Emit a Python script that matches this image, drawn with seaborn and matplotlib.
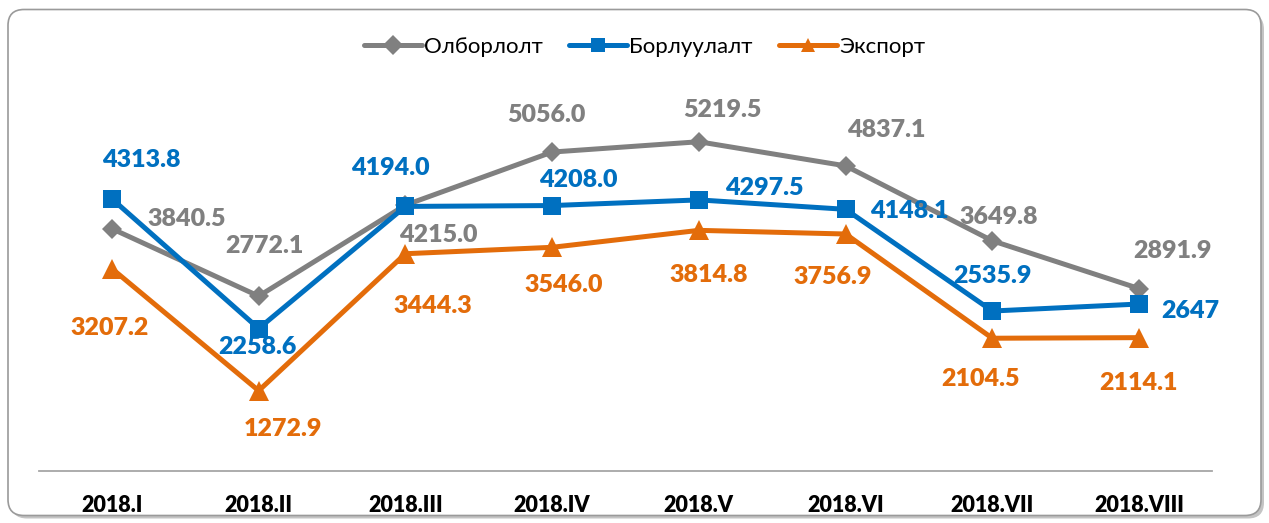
import numpy as np
import pandas as pd
import matplotlib
matplotlib.use("Agg")
import matplotlib.pyplot as plt
from matplotlib.patches import FancyBboxPatch
import seaborn as sns

periods = ["2018.I", "2018.II", "2018.III", "2018.IV", "2018.V", "2018.VI", "2018.VII", "2018.VIII"]
olborlolt = [3840.5, 2772.1, 4215.0, 5056.0, 5219.5, 4837.1, 3649.8, 2891.9]
borluulalt = [4313.8, 2258.6, 4194.0, 4208.0, 4297.5, 4148.1, 2535.9, 2647.0]
export = [3207.2, 1272.9, 3444.3, 3546.0, 3814.8, 3756.9, 2104.5, 2114.1]
series_names = ["Олборлолт", "Борлуулалт", "Экспорт"]
label_texts = {
    "Олборлолт": ["3840.5", "2772.1", "4215.0", "5056.0", "5219.5", "4837.1", "3649.8", "2891.9"],
    "Борлуулалт": ["4313.8", "2258.6", "4194.0", "4208.0", "4297.5", "4148.1", "2535.9", "2647"],
    "Экспорт": ["3207.2", "1272.9", "3444.3", "3546.0", "3814.8", "3756.9", "2104.5", "2114.1"],
}

colors = {"Олборлолт": "#808080", "Борлуулалт": "#0070C0", "Экспорт": "#E36C0A"}
markers = {"Олборлолт": "D", "Борлуулалт": "s", "Экспорт": "^"}
marker_sizes = {"Олборлолт": 10, "Борлуулалт": 13, "Экспорт": 14}

rows = []
for name, vals in zip(series_names, [olborlolt, borluulalt, export]):
    for i, v in enumerate(vals):
        rows.append({"idx": i, "value": v, "series": name})
df = pd.DataFrame(rows)

sns.set_theme(style="white")
plt.rcParams["font.family"] = ["Lato", "DejaVu Sans"]

W, H = 1269, 523
fig = plt.figure(figsize=(W / 100, H / 100), dpi=100)

# rounded frame with shadow (coordinates in inches = pixels / 100)
shadow = FancyBboxPatch((0.11, 0.045), 12.53, 5.05,
                        boxstyle="round,pad=0,rounding_size=0.16",
                        transform=fig.dpi_scale_trans, facecolor="#C4C4C4",
                        edgecolor="none", zorder=-3)
fig.patches.append(shadow)
frame = FancyBboxPatch((0.08, 0.075), 12.53, 5.06,
                       boxstyle="round,pad=0,rounding_size=0.16",
                       transform=fig.dpi_scale_trans, facecolor="white",
                       edgecolor="#9A9A9A", linewidth=1.2, zorder=-2)
fig.patches.append(frame)

left, right, bottom_px, top_px = 38.6, 1212.4, 471, 92.5
ax = fig.add_axes([left / W, 1 - bottom_px / H, (right - left) / W, (bottom_px - top_px) / H])
ax.set_facecolor("none")
ax.set_zorder(1)

sns.lineplot(data=df, x="idx", y="value", hue="series", style="series",
             hue_order=series_names, style_order=series_names,
             palette=colors, markers=markers, dashes=False, sort=False,
             linewidth=3.6, markersize=12, markeredgewidth=0, ax=ax, legend=True)

for line, name in zip(ax.lines[:3], series_names):
    line.set_markersize(marker_sizes[name])

ax.set_xlim(-0.5, 7.5)
ax.set_ylim(0, 6000)
ax.set_yticks([])
ax.set_xticks(range(len(periods)))
ax.set_xticklabels(periods, fontsize=15.5, fontweight="heavy", color="black")
ax.tick_params(axis="x", length=0, pad=17)
ax.set_xlabel("")
ax.set_ylabel("")
for s in ["top", "left", "right"]:
    ax.spines[s].set_visible(False)
ax.spines["bottom"].set_color("#A6A6A6")
ax.spines["bottom"].set_linewidth(1.3)

# label offsets in pixels (dx, dy) relative to points
offsets = {
    "Олборлолт": [(75, 10), (6, 50), (33, -30), (-6, 37), (24, 32), (41, 36), (6, 24), (33, 38)],
    "Борлуулалт": [(29, 39), (-1, -18), (-15, 38), (26, 26), (65, 12), (64, -2), (0, 35), (51, -7)],
    "Экспорт": [(-2, -59), (24, -38), (27, -52), (12, -38), (10, -45), (-13, -43), (-12, -41), (-1, -45)],
}
for name, vals in zip(series_names, [olborlolt, borluulalt, export]):
    for i, v in enumerate(vals):
        dx, dy = offsets[name][i]
        ax.annotate(label_texts[name][i], (i, v), xytext=(dx, dy), textcoords="offset pixels",
                    ha="center", va="center", fontsize=18, fontweight="heavy",
                    color=colors[name], zorder=5)

leg = ax.get_legend()
handles = leg.legend_handles
leg.remove()
fig.legend(handles, series_names, loc="center", bbox_to_anchor=(0.508, 1 - 47 / H),
           ncol=3, frameon=False, fontsize=16, handlelength=2.6, columnspacing=1.2,
           handletextpad=0.1, markerscale=0.85, labelcolor="black")

fig.savefig("out.png", dpi=100)
